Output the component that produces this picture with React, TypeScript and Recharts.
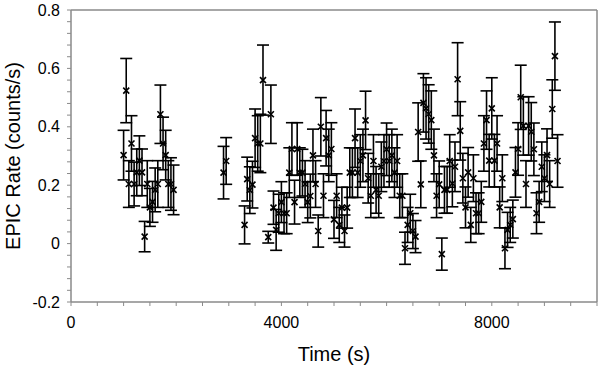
import React from 'react';
import { ScatterChart, Scatter, XAxis, YAxis, ErrorBar, ReferenceLine, Label } from 'recharts';

const times = [
  1000, 1050, 1100, 1150, 1200, 1250, 1300, 1350, 1400, 1450, 1500, 1550, 1600, 1650, 1700, 1750, 1800, 1850, 1900, 1950,
  2900, 2950,
  3300, 3350, 3400, 3450, 3500, 3550, 3600, 3650, 3750, 3800, 3850, 3900, 3950,
  4000, 4050, 4100, 4150, 4200, 4250, 4300, 4350, 4400, 4450, 4500, 4550, 4600, 4650, 4700, 4750, 4800, 4850, 4900, 4950,
  5000, 5050, 5100, 5150, 5200, 5250, 5300, 5350, 5400, 5450, 5500, 5550, 5600, 5650, 5700, 5750, 5800, 5850, 5900, 5950,
  6000, 6050, 6100, 6150, 6200, 6250, 6300, 6350, 6400, 6450, 6500, 6550, 6600, 6650, 6700, 6750, 6800, 6850, 6900, 6950,
  7000, 7050, 7100, 7150, 7200, 7250, 7300, 7350, 7400, 7450, 7500, 7550, 7600, 7650, 7700, 7750, 7800, 7850, 7900, 7950,
  8000, 8050, 8100, 8150, 8200, 8250, 8300, 8350, 8400, 8450, 8500, 8550, 8600, 8650, 8700, 8750, 8800, 8850, 8900, 8950,
  9000, 9050, 9100, 9150, 9200, 9250,
];

const rates = [
  0.303, 0.524, 0.204, 0.343, 0.204, 0.244, 0.284, 0.244, 0.024, 0.204, 0.124, 0.143, 0.184, 0.204, 0.443, 0.343, 0.303, 0.204, 0.204, 0.184,
  0.243, 0.283,
  0.064, 0.221, 0.183, 0.202, 0.361, 0.343, 0.343, 0.56, 0.022, 0.443, 0.123, 0.047, 0.104,
  0.142, 0.104, 0.104, 0.243, 0.324, 0.142, 0.324, 0.243, 0.243, 0.204, 0.142, 0.163, 0.302, 0.204, 0.043, 0.4, 0.164, 0.361, 0.302, 0.324,
  0.083, 0.164, 0.064, 0.123, 0.043, 0.123, 0.243, 0.243, 0.361, 0.243, 0.283, 0.302, 0.422, 0.224, 0.164, 0.283, 0.184, 0.164, 0.263, 0.283,
  0.323, 0.283, 0.302, 0.243, 0.283, 0.164, 0.164, -0.016, 0.064, 0.104, 0.043, 0.024, 0.382, 0.203, 0.482, 0.463, 0.444, 0.423, 0.302, 0.164,
  0.203, -0.036, 0.184, 0.184, 0.283, 0.206, 0.263, 0.563, 0.386, 0.224, 0.124, 0.244, 0.064, 0.224, 0.104, 0.104, 0.143, 0.343, 0.423, 0.284,
  0.463, 0.284, 0.343, 0.124, 0.224, -0.016, 0.047, 0.064, 0.084, 0.244, 0.324, 0.501, 0.403, 0.204, 0.403, 0.383, 0.323, 0.104, 0.143, 0.263,
  0.224, 0.303, 0.204, 0.461, 0.642, 0.283,
];

const errors = [
  0.085, 0.11, 0.08, 0.095, 0.075, 0.08, 0.085, 0.08, 0.052, 0.08, 0.065, 0.07, 0.075, 0.08, 0.1, 0.09, 0.085, 0.08, 0.09, 0.085,
  0.09, 0.08,
  0.065, 0.075, 0.08, 0.08, 0.1, 0.095, 0.1, 0.12, 0.02, 0.1, 0.057, 0.07, 0.065,
  0.07, 0.07, 0.07, 0.085, 0.09, 0.075, 0.09, 0.085, 0.08, 0.08, 0.07, 0.075, 0.09, 0.08, 0.055, 0.1, 0.075, 0.095, 0.09, 0.09,
  0.065, 0.075, 0.06, 0.07, 0.055, 0.07, 0.085, 0.085, 0.1, 0.085, 0.09, 0.09, 0.1, 0.085, 0.075, 0.09, 0.08, 0.075, 0.085, 0.09,
  0.09, 0.09, 0.09, 0.085, 0.09, 0.075, 0.075, 0.055, 0.06, 0.065, 0.06, 0.055, 0.1, 0.08, 0.1, 0.105, 0.1, 0.1, 0.09, 0.075,
  0.08, 0.055, 0.08, 0.08, 0.09, 0.08, 0.085, 0.125, 0.1, 0.085, 0.07, 0.085, 0.06, 0.08, 0.07, 0.07, 0.07, 0.095, 0.1, 0.09,
  0.105, 0.09, 0.095, 0.07, 0.08, 0.07, 0.06, 0.06, 0.065, 0.085, 0.09, 0.11, 0.1, 0.08, 0.1, 0.1, 0.09, 0.07, 0.07, 0.085,
  0.08, 0.09, 0.08, 0.1, 0.117, 0.09,
];

const xTicks = [0, 500, 1000, 1500, 2000, 2500, 3000, 3500, 4000, 4500, 5000, 5500, 6000, 6500, 7000, 7500, 8000, 8500, 9000, 9500, 10000];
const xLabelTicks = [0, 4000, 8000];
const yTicks = [-0.2, -0.16, -0.12, -0.08, -0.04, 0, 0.04, 0.08, 0.12, 0.16, 0.2, 0.24, 0.28, 0.32, 0.36, 0.4, 0.44, 0.48, 0.52, 0.56, 0.6, 0.64, 0.68, 0.72, 0.76, 0.8];
const yLabelTicks = [-0.2, 0, 0.2, 0.4, 0.6, 0.8];

const data = times.map((t, i) => ({ t, r: rates[i], err: errors[i] }));

const AXIS = '#8a8a8a';

const XMark = (props: any) => {
  const { cx, cy } = props;
  if (cx == null || cy == null) return null;
  const s = 3;
  return (
    <path
      d={`M${cx - s},${cy - s}L${cx + s},${cy + s}M${cx - s},${cy + s}L${cx + s},${cy - s}`}
      stroke="#000"
      strokeWidth={1.6}
      fill="none"
    />
  );
};

export default function App() {
  return (
    <div style={{ position: 'absolute', left: 0, top: 0, width: 600, height: 367, background: '#fff' }}>
      <ScatterChart
        width={600}
        height={367}
        margin={{ top: 10, right: 3, left: 0, bottom: 0 }}
        style={{ fontFamily: '"Liberation Sans", Arial, sans-serif' }}
      >
        <XAxis
          type="number"
          dataKey="t"
          domain={[0, 10000]}
          ticks={xTicks}
          interval={0}
          height={65}
          tickSize={4}
          tickMargin={11}
          axisLine={{ stroke: AXIS, strokeWidth: 1.5 }}
          tickLine={{ stroke: AXIS }}
          tick={{ fill: '#000', fontSize: 16 }}
          tickFormatter={(v: number) => (xLabelTicks.includes(v) ? String(v) : '')}
        >
          <Label value="Time (s)" position="insideBottom" offset={6} style={{ fill: '#000', fontSize: 20 }} />
        </XAxis>
        <YAxis
          type="number"
          dataKey="r"
          domain={[-0.2, 0.8]}
          ticks={yTicks}
          interval={0}
          width={71}
          tickSize={4}
          tickMargin={7}
          allowDataOverflow
          axisLine={{ stroke: AXIS, strokeWidth: 1.5 }}
          tickLine={{ stroke: AXIS }}
          tick={{ fill: '#000', fontSize: 16 }}
          tickFormatter={(v: number) => (yLabelTicks.includes(v) ? String(v) : '')}
        >
          <Label
            value="EPIC Rate (counts/s)"
            angle={-90}
            position="insideLeft"
            offset={13}
            style={{ fill: '#000', fontSize: 20, textAnchor: 'middle' }}
          />
        </YAxis>
        <ReferenceLine y={0.8} stroke={AXIS} strokeWidth={1.5} />
        <ReferenceLine x={10000} stroke={AXIS} strokeWidth={1.5} />
        <Scatter data={data} shape={XMark} isAnimationActive={false}>
          <ErrorBar dataKey="err" direction="y" width={6} stroke="#000" strokeWidth={1.6} isAnimationActive={false} />
        </Scatter>
      </ScatterChart>
    </div>
  );
}
